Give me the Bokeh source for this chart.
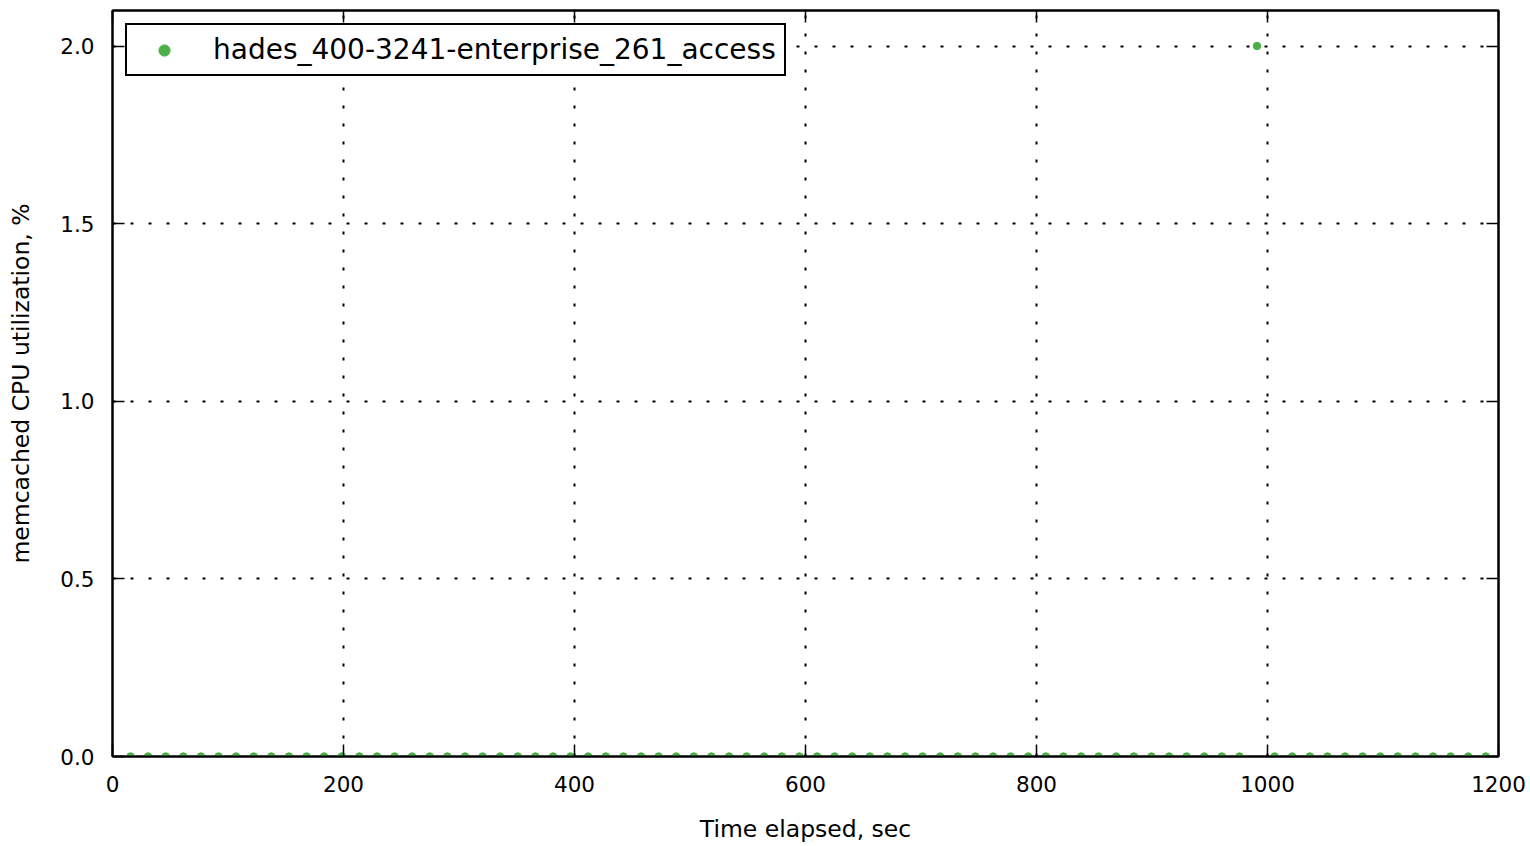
from bokeh.plotting import figure
from bokeh.models import Range1d, LinearAxis, FixedTicker, Legend, LegendItem, ColumnDataSource, NumeralTickFormatter
from bokeh.embed import file_html
from bokeh.resources import INLINE

series_name = "hades_400-3241-enterprise_261_access"
time_sec = [15.6, 30.8, 46.1, 61.3, 76.6, 91.8, 107.0, 122.3, 137.5, 152.8,
            168.0, 183.2, 198.5, 213.7, 229.0, 244.2, 259.4, 274.7, 289.9, 305.2,
            320.4, 335.6, 350.9, 366.1, 381.4, 396.6, 411.8, 427.1, 442.3, 457.6,
            472.8, 488.0, 503.3, 518.5, 533.8, 549.0, 564.2, 579.5, 594.7, 610.0,
            625.2, 640.4, 655.7, 670.9, 686.2, 701.4, 716.6, 731.9, 747.1, 762.4,
            777.6, 792.8, 808.1, 823.3, 838.6, 853.8, 869.0, 884.3, 899.5, 914.8,
            930.0, 945.2, 960.5, 975.7, 990.9, 1006.2, 1021.4, 1036.7, 1051.9, 1067.1,
            1082.4, 1097.6, 1112.8, 1128.1, 1143.3, 1158.6, 1173.8, 1189.0]
cpu_util = [0.0] * 64 + [2.0] + [0.0] * 13
x_ticks = [0, 200, 400, 600, 800, 1000, 1200]
y_ticks = [0.0, 0.5, 1.0, 1.5, 2.0]

FONT = "DejaVu Sans"
GREEN = "#4daf4a"

p = figure(width=1528, height=845, output_backend="svg", toolbar_location=None,
           x_range=Range1d(0, 1200), y_range=Range1d(0, 2.1),
           min_border_left=112, min_border_right=30, min_border_top=10, min_border_bottom=89)
p.background_fill_color = "white"
p.border_fill_color = "white"
p.outline_line_color = "black"
p.outline_line_width = 2

src = ColumnDataSource(dict(t=time_sec, v=cpu_util))
r = p.scatter("t", "v", source=src, size=7.5, color=GREEN, line_color=GREEN)

for ax in (p.xaxis[0], p.yaxis[0]):
    ax.major_label_text_font = FONT
    ax.major_label_text_font_size = "21.5px"
    ax.major_label_text_color = "black"
    ax.axis_label_text_font = FONT
    ax.axis_label_text_font_size = "23.5px"
    ax.axis_label_text_font_style = "normal"
    ax.axis_label_text_color = "black"
    ax.major_tick_in = 12
    ax.major_tick_out = 0
    ax.minor_tick_line_color = None
    ax.major_tick_line_color = "black"
    ax.major_tick_line_width = 1.5
    ax.axis_line_color = "black"
    ax.axis_line_width = 2

p.xaxis[0].ticker = FixedTicker(ticks=x_ticks)
p.yaxis[0].ticker = FixedTicker(ticks=y_ticks)
p.yaxis[0].formatter = NumeralTickFormatter(format="0.0")
p.xaxis[0].axis_label = "Time elapsed, sec"
p.yaxis[0].axis_label = "memcached CPU utilization, %"
p.xaxis[0].major_label_standoff = 19
p.yaxis[0].major_label_standoff = 18
p.xaxis[0].axis_label_standoff = 20
p.yaxis[0].axis_label_standoff = 22

# top and right spines carry inward ticks only (drawn as unlabeled minor ticks)
top = LinearAxis(ticker=FixedTicker(ticks=[], minor_ticks=x_ticks),
                 major_tick_line_color=None, major_label_text_font_size="0px",
                 minor_tick_in=12, minor_tick_out=0, minor_tick_line_color="black",
                 minor_tick_line_width=1.5, axis_line_width=2, major_label_standoff=0)
right = LinearAxis(ticker=FixedTicker(ticks=[], minor_ticks=y_ticks),
                   major_tick_line_color=None, major_label_text_font_size="0px",
                   minor_tick_in=12, minor_tick_out=0, minor_tick_line_color="black",
                   minor_tick_line_width=1.5, axis_line_width=2, major_label_standoff=0)
p.add_layout(top, "above")
p.add_layout(right, "right")

for g in (p.xgrid[0], p.ygrid[0]):
    g.grid_line_color = "black"
    g.grid_line_dash = "3 15"
    g.grid_line_width = 2
p.xgrid[0].ticker = FixedTicker(ticks=x_ticks)
p.ygrid[0].ticker = FixedTicker(ticks=y_ticks)

legend = Legend(items=[LegendItem(label=series_name, renderers=[r])],
                location="top_left", margin=13, padding=8,
                glyph_width=58, glyph_height=28, label_standoff=20, label_height=30,
                label_text_font=FONT, label_text_font_size="28px", label_text_color="black",
                border_line_color="black", border_line_width=2, border_line_alpha=1.0,
                background_fill_alpha=1.0, spacing=0)
p.add_layout(legend, "center")

open("out.html", "w").write(file_html(p, INLINE))
